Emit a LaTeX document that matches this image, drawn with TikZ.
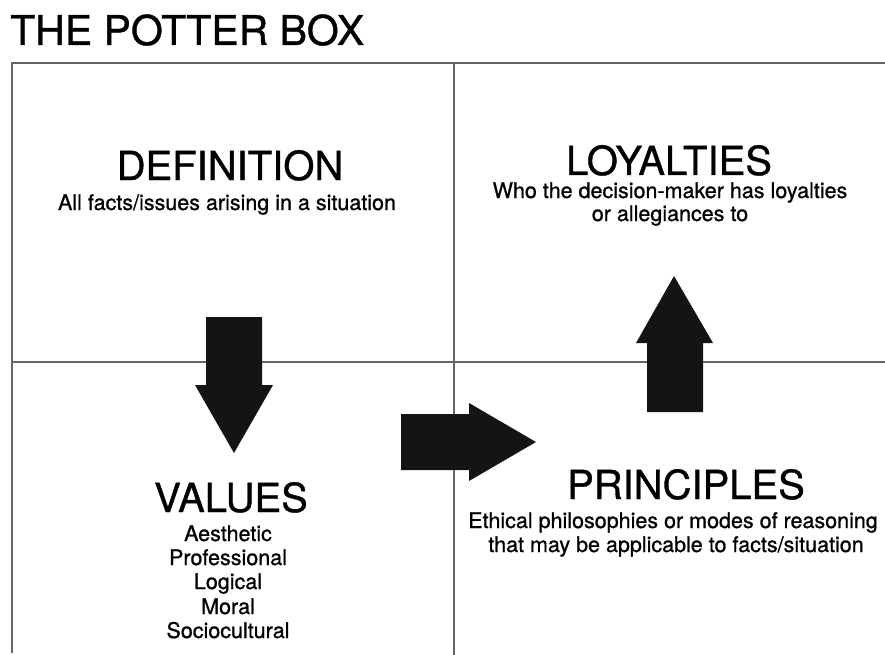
\documentclass[tikz,border=0pt]{standalone}
\usepackage{fontspec}
\setmainfont{TeX Gyre Heros}[FakeBold=0.9]
\begin{document}
\begin{tikzpicture}[x=1pt,y=-1pt,
  gridline/.style={draw=black!60, line width=1.3pt},
  blockarrow/.style={fill=black!92, draw=none},
  heading/.style={anchor=base, inner sep=0pt, font=\fontsize{40}{44}\selectfont},
  body/.style={anchor=base, inner sep=0pt, font=\fontsize{21.5}{24}\selectfont}]
\useasboundingbox (0,0) rectangle (885,655);
\fill[white] (0,0) rectangle (885,655);
% title
\node[anchor=base west, inner sep=0pt, font=\fontsize{41}{44}\selectfont] (title) at (10,45) {THE POTTER BOX};
% grid
\coordinate (tl) at (12,63);
\coordinate (tr) at (885,63);
\coordinate (bl) at (12,653);
\coordinate (tm) at (454,63);
\coordinate (bm) at (454,655);
\coordinate (ml) at (12,362);
\coordinate (mr) at (885,362);
\draw[gridline] (tr) -- (tl) -- (bl);
\draw[gridline] (tm) -- (bm);
\draw[gridline] (ml) -- (mr);
% arrows
\fill[blockarrow] (206,317) -- (262,317) -- (262,385) -- (273,385) -- (234,453) -- (195,385) -- (206,385) -- cycle;
\fill[blockarrow] (401,414) -- (469,414) -- (469,403) -- (536,442) -- (469,481) -- (469,470) -- (401,470) -- cycle;
\fill[blockarrow] (647,412) -- (647,343) -- (636,343) -- (674,276) -- (713,343) -- (703,343) -- (703,412) -- cycle;
% definition
\node[heading] (defh) at (230,180) {DEFINITION};
\node[body] (deft) at (227,210) {All facts/issues arising in a situation};
% loyalties
\node[heading] (loyh) at (669,175) {LOYALTIES};
\node[body] (loyt1) at (670,198) {Who the decision-maker has loyalties};
\node[body] (loyt2) at (670,221) {or allegiances to};
% values
\node[heading] (valh) at (231,512) {VALUES};
\node[body] (val1) at (228,541) {Aesthetic};
\node[body] (val2) at (228,565) {Professional};
\node[body] (val3) at (228,589) {Logical};
\node[body] (val4) at (228,614) {Moral};
\node[body] (val5) at (228,638) {Sociocultural};
% principles
\node[heading] (prih) at (686,499) {PRINCIPLES};
\node[body] (prit1) at (673,528) {Ethical philosophies or modes of reasoning};
\node[body] (prit2) at (676,552) {that may be applicable to facts/situation};
\end{tikzpicture}
\end{document}
